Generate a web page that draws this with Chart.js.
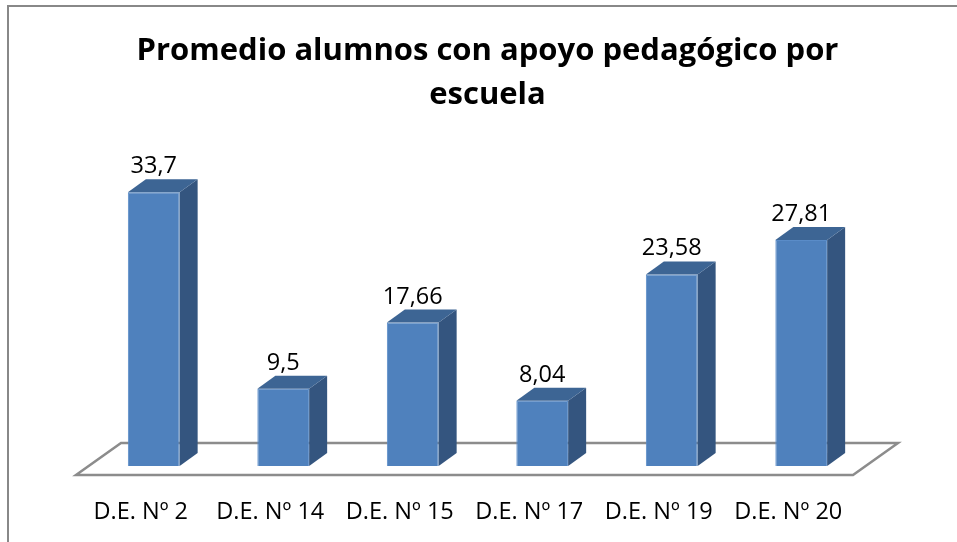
<!DOCTYPE html>
<html>
<head>
<meta charset="utf-8">
<script src="https://cdn.jsdelivr.net/npm/chart.js@4.4.1/dist/chart.umd.min.js"></script>
<style>
  html, body { margin: 0; padding: 0; background: #fff; }
  #wrap { position: relative; width: 957px; height: 542px; }
</style>
</head>
<body>
<div id="wrap"><canvas id="chart1"></canvas></div>
<script>
// Datos del grafico
var escuelas  = ['D.E. Nº 2', 'D.E. Nº 14', 'D.E. Nº 15', 'D.E. Nº 17', 'D.E. Nº 19', 'D.E. Nº 20']
var promedios = [33.7, 9.5, 17.66, 8.04, 23.58, 27.81]
var titulo    = ['Promedio alumnos con apoyo pedagógico por', 'escuela']

var fuente = "'Open Sans', 'DejaVu Sans', sans-serif"

// profundidad de las barras 3D
var prof = { dx: 18, dy: -13 }

// marco gris del grafico (arriba e izquierda) y titulo
var marco = {
  id: 'marco',
  beforeDraw: function (chart) {
    var ctx = chart.ctx
    ctx.save()
    ctx.strokeStyle = '#888888'
    ctx.lineWidth = 2
    ctx.beginPath()
    ctx.moveTo(8, 542)
    ctx.lineTo(8, 6)
    ctx.lineTo(957, 6)
    ctx.stroke()
    // titulo (centrado sobre el grafico 3D, no sobre el canvas)
    ctx.fillStyle = '#000000'
    ctx.font = 'bold 31px ' + fuente
    ctx.textAlign = 'center'
    ctx.textBaseline = 'alphabetic'
    ctx.fillText(titulo[0], 487.5, 60)
    ctx.fillText(titulo[1], 487.5, 104)
    ctx.restore()
  }
}

// piso en perspectiva
var piso = {
  id: 'piso',
  beforeDatasetsDraw: function (chart) {
    var ctx = chart.ctx
    var a = chart.chartArea
    var y0 = chart.scales.y.getPixelForValue(0)
    ctx.save()
    ctx.strokeStyle = '#8c8c8c'
    ctx.lineWidth = 2.5
    ctx.fillStyle = '#ffffff'
    ctx.beginPath()
    ctx.moveTo(a.left - 13, y0 + 9)
    ctx.lineTo(a.right - 13, y0 + 9)
    ctx.lineTo(a.right + 32, y0 - 23)
    ctx.lineTo(a.left + 32, y0 - 23)
    ctx.closePath()
    ctx.fill()
    ctx.stroke()
    ctx.restore()
  }
}

// caras laterales y superiores + etiquetas de valor
var caras3d = {
  id: 'caras3d',
  afterDatasetsDraw: function (chart) {
    var ctx = chart.ctx
    var meta = chart.getDatasetMeta(0)
    ctx.save()
    meta.data.forEach(function (bar, i) {
      var l = bar.x - bar.width / 2
      var r = bar.x + bar.width / 2
      var t = bar.y
      var b = bar.base
      // lado derecho
      ctx.fillStyle = '#34557f'
      ctx.beginPath()
      ctx.moveTo(r, t)
      ctx.lineTo(r + prof.dx, t + prof.dy)
      ctx.lineTo(r + prof.dx, b + prof.dy)
      ctx.lineTo(r, b)
      ctx.closePath()
      ctx.fill()
      // tapa
      ctx.fillStyle = '#3d6594'
      ctx.beginPath()
      ctx.moveTo(l, t)
      ctx.lineTo(l + prof.dx, t + prof.dy)
      ctx.lineTo(r + prof.dx, t + prof.dy)
      ctx.lineTo(r, t)
      ctx.closePath()
      ctx.fill()
      // valor
      ctx.fillStyle = '#000000'
      ctx.font = '23.5px ' + fuente
      ctx.textAlign = 'center'
      ctx.textBaseline = 'alphabetic'
      ctx.fillText(String(promedios[i]).replace('.', ','), bar.x, t - 19)
    })
    ctx.restore()
  }
}

var barChartCanvas = document.getElementById('chart1').getContext('2d')

var barChartData = {
  labels  : escuelas,
  datasets: [
    {
      label          : 'Promedio',
      backgroundColor: '#4f81bd',
      borderColor    : '#5a8cc8',
      borderWidth    : 1,
      barPercentage  : 0.4,
      categoryPercentage: 1,
      data           : promedios
    }
  ]
}

var barChartOptions = {
  responsive         : true,
  maintainAspectRatio: false,
  animation          : false,
  layout: {
    padding: { left: 89, right: 91, top: 141, bottom: 0 }
  },
  plugins: {
    legend : { display: false },
    tooltip: { enabled: false },
    title  : { display: false }
  },
  scales: {
    x: {
      grid  : { display: false, drawTicks: false },
      border: { display: false },
      ticks : {
        color      : '#000000',
        font       : { family: fuente, size: 23.5 },
        padding    : 32,
        labelOffset: -13,
        maxRotation: 0
      },
      afterFit: function (scale) { scale.height = 76 }
    },
    y: {
      display: false,
      min    : 0,
      max    : 40
    }
  }
}

new Chart(barChartCanvas, {
  type   : 'bar',
  data   : barChartData,
  options: barChartOptions,
  plugins: [marco, piso, caras3d]
})
</script>
</body>
</html>
